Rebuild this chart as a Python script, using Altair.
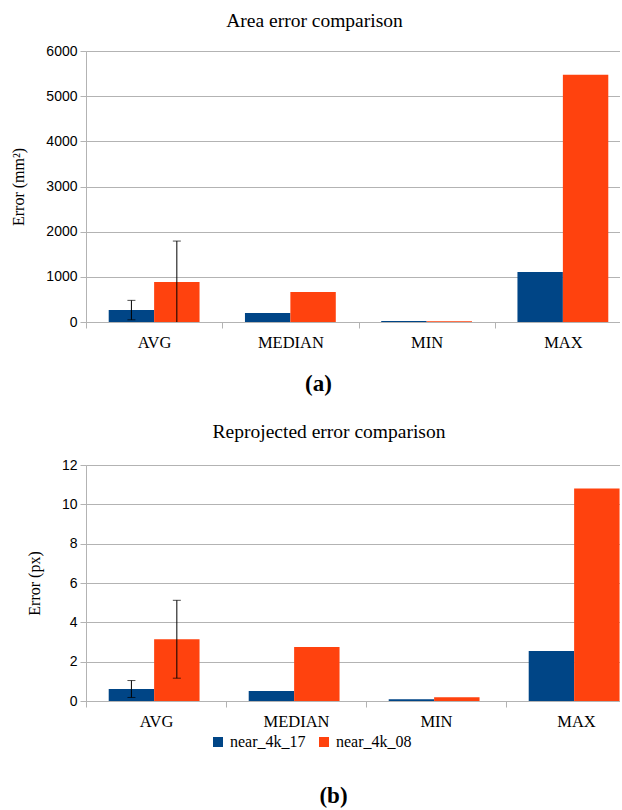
import altair as alt
import pandas as pd

# Statistic groups and the two capture series
categories = ["AVG", "MEDIAN", "MIN", "MAX"]
series = ["near_4k_17", "near_4k_08"]
colors = ["#004586", "#ff420e"]

# Area error (mm²)
area_17 = [264, 200, 20, 1105]
area_08 = [887, 665, 14, 5475]
area_err_17 = [215, None, None, None]
area_err_08 = [905, None, None, None]

# Reprojected error (px)
reproj_17 = [0.61, 0.51, 0.09, 2.54]
reproj_08 = [3.14, 2.74, 0.19, 10.81]
reproj_err_17 = [0.43, None, None, None]
reproj_err_08 = [1.98, None, None, None]

SERIF = "Liberation Serif"
SANS = "Liberation Sans"
GRID = "#b3b3b3"


def frame(v17, v08, e17, e08):
    rows = []
    for i, cat in enumerate(categories):
        for s, v, e in ((series[0], v17[i], e17[i]), (series[1], v08[i], e08[i])):
            rows.append({
                "category": cat,
                "series": s,
                "value": v,
                "low": v - e if e is not None else None,
                "high": v + e if e is not None else None,
            })
    return pd.DataFrame(rows)


legend = alt.Legend(
    orient="none", legendX=124, legendY=683, direction="horizontal",
    title=None, symbolType="square", symbolSize=100, symbolStrokeWidth=0,
    labelFont=SERIF, labelFontSize=16, labelColor="black",
    columnPadding=10, labelOffset=4, padding=0,
)


def panel(df, title, title_dx, title_offset, ytitle, ymax, yvalues, label,
          label_x, label_pad, width, height):
    x = alt.X(
        "category:N", sort=categories,
        scale=alt.Scale(paddingInner=0, paddingOuter=0),
        axis=alt.Axis(
            title=label, titleFont=SERIF, titleFontSize=23,
            titleFontWeight="bold", titleColor="black", titleX=label_x,
            titleAlign="center", titlePadding=label_pad,
            labelFont=SERIF, labelFontSize=16.5, labelColor="black",
            labelAngle=0, labelPadding=6, tickBand="extent", tickSize=6,
            tickColor=GRID, domainColor=GRID, grid=False,
        ),
    )
    xo = alt.XOffset(
        "series:N", sort=series,
        scale=alt.Scale(paddingInner=0, paddingOuter=0.5),
    )
    y_scale = alt.Scale(domain=[0, ymax], nice=False)
    y_axis = alt.Axis(
        values=yvalues, format="d", title=ytitle, titleFont=SERIF,
        titleFontSize=16, titleFontWeight="normal", titleColor="black",
        titlePadding=19, labelFont=SANS, labelFontSize=14,
        labelColor="black", labelPadding=3, labelOverlap=False,
        tickSize=6, tickColor=GRID, domainColor=GRID, gridColor=GRID,
    )
    bars = alt.Chart(df).mark_bar().encode(
        x=x, xOffset=xo,
        y=alt.Y("value:Q", scale=y_scale, axis=y_axis),
        color=alt.Color("series:N", sort=series,
                        scale=alt.Scale(domain=series, range=colors),
                        legend=legend),
    )
    spread = alt.Chart(df).transform_filter("isValid(datum.low)")
    y_low = alt.Y("low:Q", scale=y_scale, axis=y_axis)
    y_high = alt.Y("high:Q", scale=y_scale, axis=y_axis)
    stems = spread.mark_rule(color="black", strokeWidth=1, clip=True).encode(
        x=x, xOffset=xo, y=y_low, y2="high:Q",
    )
    caps_lo = spread.mark_tick(color="black", thickness=1, size=8, clip=True).encode(
        x=x, xOffset=xo, y=y_low,
    )
    caps_hi = spread.mark_tick(color="black", thickness=1, size=8, clip=True).encode(
        x=x, xOffset=xo, y=y_high,
    )
    return alt.layer(bars, stems, caps_lo, caps_hi).properties(
        width=width, height=height,
        title=alt.TitleParams(
            title, font=SERIF, fontSize=19.5, fontWeight="normal",
            color="black", dx=title_dx, offset=title_offset,
        ),
    )


top = panel(
    frame(area_17, area_08, area_err_17, area_err_08),
    "Area error comparison", -44, 13, "Error (mm²)", 6000,
    [0, 1000, 2000, 3000, 4000, 5000, 6000], "(a)", 232, 22, 545, 271,
)
bottom = panel(
    frame(reproj_17, reproj_08, reproj_err_17, reproj_err_08),
    "Reprojected error comparison", -37, 16, "Error (px)", 12,
    [0, 2, 4, 6, 8, 10, 12], "(b)", 247, 55, 560, 236,
)

# the right end of both panels runs past the page edge
chart = alt.vconcat(top, bottom, spacing=25).properties(
    padding={"left": 10, "top": 10, "right": -27, "bottom": 0},
).configure_view(stroke=None).configure(background="white")

chart.save("out.html", embed_options={"renderer": "svg", "actions": False})
